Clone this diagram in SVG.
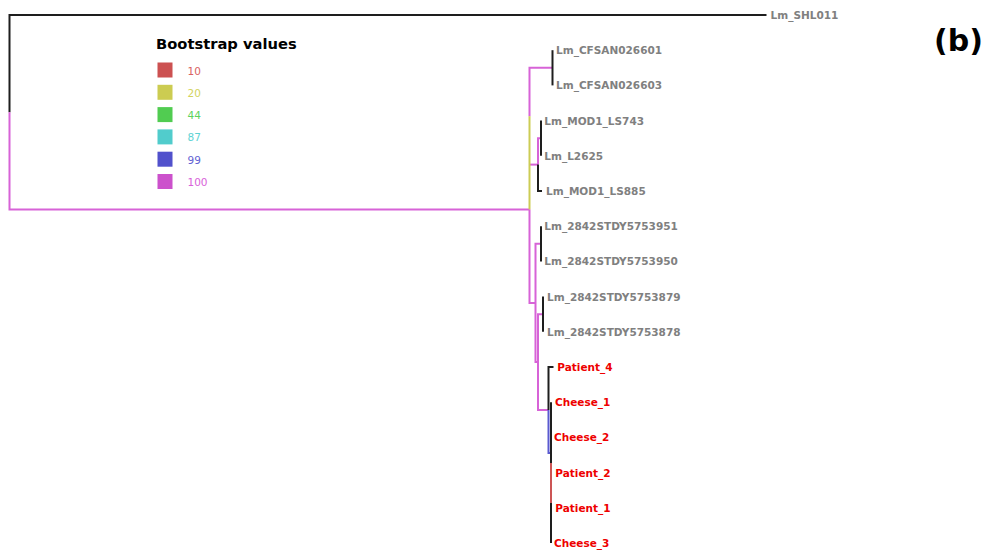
<svg xmlns="http://www.w3.org/2000/svg" width="989" height="552" viewBox="0 0 989 552">
  <style>
    .edge { fill: none; stroke-width: 2; stroke-linejoin: miter; stroke-linecap: butt; }
    .k { stroke: #1e1e1e; }
    .m { stroke: #d763d7; }
    .y { stroke: #cccc55; }
    .b { stroke: #5a5ad0; }
    .r { stroke: #cc5555; }
    .leaf { font-family: "DejaVu Sans", "Liberation Sans", sans-serif; font-weight: bold; font-size: 10.5px; }
    .ref { fill: #808080; }
    .case { fill: #ee0000; }
    .legend-title { font-family: "DejaVu Sans", "Liberation Sans", sans-serif; font-weight: bold; font-size: 14.7px; fill: #000; }
    .legend-label { font-family: "DejaVu Sans", "Liberation Sans", sans-serif; font-size: 10.5px; }
    .panel { font-family: "DejaVu Sans", "Liberation Sans", sans-serif; font-weight: bold; font-size: 30px; fill: #000; }
  </style>
  <rect width="989" height="552" fill="#ffffff"/>

  <!-- tree branches, coloured by bootstrap support -->
  <g id="connectors">
    <path class="edge k" d="M766.5,15 H9.5 V112.3"/>
    <path class="edge m" d="M9.5,112.3 V209.6 H529.5"/>
    <path class="edge m" d="M529.5,116.2 V67.8 H552.5"/>
    <path class="edge m" d="M529.5,164.6 H538"/>
    <path class="edge y" d="M529.5,209.6 V116.2"/>
    <path class="edge m" d="M529.5,209.6 V302.95 H535.5"/>
    <path class="edge k" d="M552.5,50.2 V85.4"/>
    <path class="edge m" d="M538,164.6 V138.2 H541"/>
    <path class="edge k" d="M538,164.6 V191 H542"/>
    <path class="edge k" d="M541,120.6 V155.8"/>
    <path class="edge m" d="M535.5,302.95 V243.8 H541"/>
    <path class="edge k" d="M541,226.2 V261.4"/>
    <path class="edge m" d="M535.5,302.95 V362.1 H538"/>
    <path class="edge m" d="M538,362.1 V314.2 H543"/>
    <path class="edge k" d="M543,296.6 V331.8"/>
    <path class="edge m" d="M538,362.1 V410 H548.5"/>
    <path class="edge k" d="M548.5,410 V367 H553.5"/>
    <path class="edge b" d="M548.5,410 V453 H551"/>
    <path class="edge k" d="M551,402.2 V543"/>
    <path class="edge r" d="M551,463 V503"/>
  </g>

  <!-- leaves -->
  <g id="Lm_SHL011"><text class="leaf ref" x="770.5" y="19">Lm_SHL011</text></g>
  <g id="Lm_CFSAN026601"><text class="leaf ref" x="556" y="54.2">Lm_CFSAN026601</text></g>
  <g id="Lm_CFSAN026603"><text class="leaf ref" x="556" y="89.4">Lm_CFSAN026603</text></g>
  <g id="Lm_MOD1_LS743"><text class="leaf ref" x="544.3" y="124.6">Lm_MOD1_LS743</text></g>
  <g id="Lm_L2625"><text class="leaf ref" x="544.3" y="159.8">Lm_L2625</text></g>
  <g id="Lm_MOD1_LS885"><text class="leaf ref" x="546" y="195">Lm_MOD1_LS885</text></g>
  <g id="Lm_2842STDY5753951"><text class="leaf ref" x="544.3" y="230.2">Lm_2842STDY5753951</text></g>
  <g id="Lm_2842STDY5753950"><text class="leaf ref" x="544.3" y="265.4">Lm_2842STDY5753950</text></g>
  <g id="Lm_2842STDY5753879"><text class="leaf ref" x="547" y="300.6">Lm_2842STDY5753879</text></g>
  <g id="Lm_2842STDY5753878"><text class="leaf ref" x="547" y="335.8">Lm_2842STDY5753878</text></g>
  <g id="Patient_4"><text class="leaf case" x="557.3" y="371">Patient_4</text></g>
  <g id="Cheese_1"><text class="leaf case" x="555" y="406.2">Cheese_1</text></g>
  <g id="Cheese_2"><text class="leaf case" x="554" y="441.4">Cheese_2</text></g>
  <g id="Patient_2"><text class="leaf case" x="555.3" y="476.6">Patient_2</text></g>
  <g id="Patient_1"><text class="leaf case" x="555.3" y="511.8">Patient_1</text></g>
  <g id="Cheese_3"><text class="leaf case" x="554" y="547">Cheese_3</text></g>

  <!-- bootstrap legend -->
  <g id="legend">
    <text class="legend-title" x="156" y="48.5">Bootstrap values</text>
    <rect x="157.5" y="62.5" width="15" height="15" fill="#cc5151"/>
    <text class="legend-label" x="187.5" y="74.5" fill="#d96262">10</text>
    <rect x="157.5" y="84.8" width="15" height="15" fill="#cccc51"/>
    <text class="legend-label" x="187.5" y="96.8" fill="#d3d35e">20</text>
    <rect x="157.5" y="107.1" width="15" height="15" fill="#51cc51"/>
    <text class="legend-label" x="187.5" y="119.1" fill="#5ed35e">44</text>
    <rect x="157.5" y="129.4" width="15" height="15" fill="#51cccc"/>
    <text class="legend-label" x="187.5" y="141.4" fill="#5ed3d3">87</text>
    <rect x="157.5" y="151.7" width="15" height="15" fill="#5151cc"/>
    <text class="legend-label" x="187.5" y="163.7" fill="#6262d3">99</text>
    <rect x="157.5" y="174" width="15" height="15" fill="#cc51cc"/>
    <text class="legend-label" x="187.5" y="186" fill="#d962d9">100</text>
  </g>

  <g id="panel-label"><text class="panel" x="934" y="51">(b)</text></g>
</svg>
